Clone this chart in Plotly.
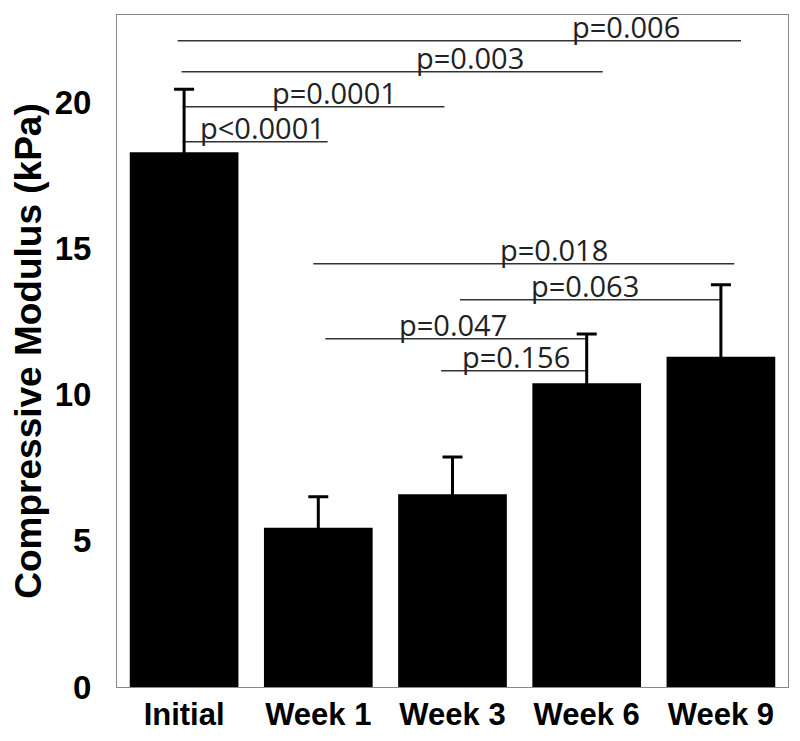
import plotly.graph_objects as go

# ---- data ----
categories = ["Initial", "Week 1", "Week 3", "Week 6", "Week 9"]
modulus_mean = [18.3, 5.45, 6.6, 10.4, 11.3]
modulus_sd = [2.16, 1.06, 1.27, 1.68, 2.47]
y_ticks = [0, 5, 10, 15, 20]

comp_labels = ["p<0.0001", "p=0.0001", "p=0.003", "p=0.006",
               "p=0.018", "p=0.063", "p=0.047", "p=0.156"]

# bracket layout: (line y, x start, x end, label x center) in axis units
bracket_layout = [
    (18.66, -0.011, 1.07, 0.584),
    (19.86, -0.011, 1.94, 1.119),
    (21.06, -0.019, 3.12, 2.13),
    (22.12, -0.048, 4.15, 3.29),
    (14.49, 0.963, 4.10, 2.76),
    (13.25, 2.056, 4.00, 2.99),
    (11.92, 1.052, 3.00, 2.00),
    (10.82, 1.915, 3.00, 2.47),
]

xpos = list(range(len(categories)))

fig = go.Figure()
fig.add_trace(go.Bar(
    x=xpos, y=modulus_mean,
    marker=dict(color="black", line=dict(width=0)),
    error_y=dict(type="data", array=modulus_sd, symmetric=True,
                 color="black", thickness=3, width=10),
    showlegend=False,
))

shapes = []
annotations = []
for label, (ly, x0, x1, tx) in zip(comp_labels, bracket_layout):
    shapes.append(dict(type="line", xref="x", yref="y", x0=x0, x1=x1, y0=ly, y1=ly,
                       line=dict(color="#333333", width=1.5), layer="below"))
    annotations.append(dict(x=tx, y=ly, xref="x", yref="y", text=label, showarrow=False,
                            xanchor="center", yanchor="bottom", yshift=-7,
                            font=dict(family="Open Sans", size=29, color="#222222")))

axis_font = dict(family="Liberation Sans, Arial", size=33, color="black", weight="bold")

# the page adds an 8px body margin, so the figure is sized to fit inside it
fig.update_layout(
    width=784, height=725,
    margin=dict(l=109, r=4, t=7, b=46),
    paper_bgcolor="white", plot_bgcolor="white",
    bargap=0.19,
    shapes=shapes, annotations=annotations,
    xaxis=dict(range=[-0.5, 4.5], tickmode="array", tickvals=xpos, ticktext=categories,
               tickfont=dict(family="Liberation Sans, Arial", size=31, color="black", weight="bold"),
               showline=True, mirror=True, linecolor="#888888", linewidth=1,
               showgrid=False, zeroline=False, ticks="", ticklabelstandoff=0, automargin=False),
    yaxis=dict(range=[0, 23], tickmode="array", tickvals=y_ticks,
               tickfont=axis_font,
               showline=True, mirror=True, linecolor="#888888", linewidth=1,
               showgrid=False, zeroline=False, ticks="", ticklabelstandoff=18,
               title=dict(text="Compressive Modulus (kPa)", standoff=12,
                          font=dict(family="Liberation Sans, Arial", size=37, color="black", weight="bold")),
               automargin=False),
)

fig.write_html("out.html")
